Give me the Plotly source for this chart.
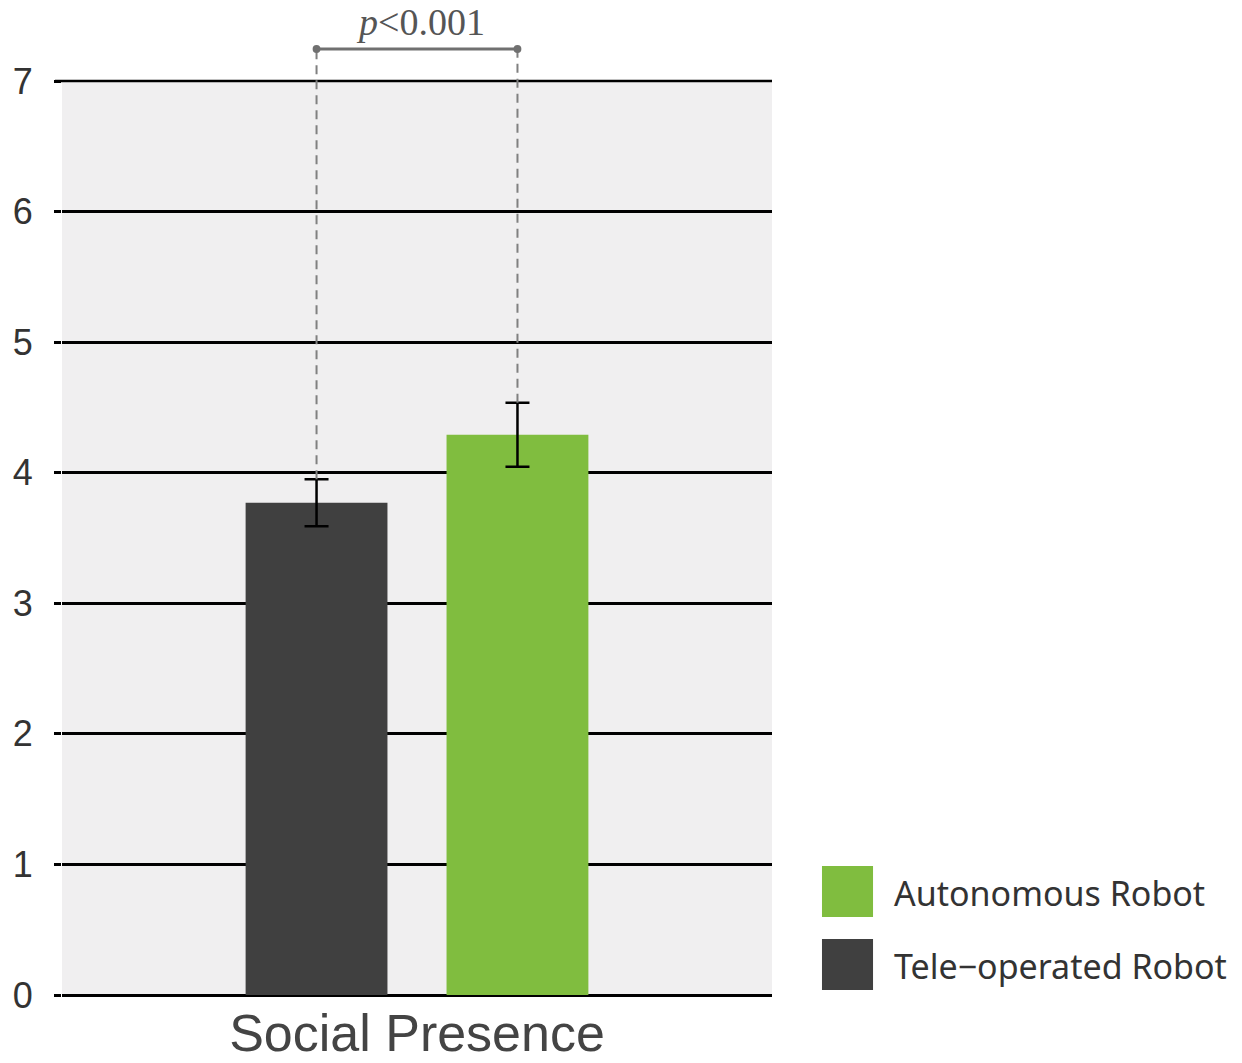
import plotly.graph_objects as go

categories = ["Social Presence"]
series_names = ["Tele-operated Robot", "Autonomous Robot"]
means = [3.77, 4.29]
errors = [0.18, 0.245]
colors = ["#404040", "#80bd3f"]
y_ticks = [0, 1, 2, 3, 4, 5, 6, 7]
p_label = "<i>p</i>&lt;0.001"

Y_MAX = 7
BARGAP = 0.434
BARGROUPGAP = 0.294

fig = go.Figure()
for name, m, e, c in zip(series_names, means, errors, colors):
    fig.add_trace(go.Bar(
        x=categories, y=[m], name=name, marker=dict(color=c, line=dict(width=0)),
        error_y=dict(type="data", array=[e], color="black", thickness=2.5, width=12),
        showlegend=False,
    ))

# bar centre offsets on the category axis (derived from gap settings)
n = len(series_names)
slot = (1 - BARGAP) / n
offsets = [-(1 - BARGAP) / 2 + slot * (i + 0.5) for i in range(n)]

bracket_y = 1.035
shapes = []
# top grid line at the range edge
shapes.append(dict(type="line", xref="paper", yref="paper", x0=-0.0099, x1=1, y0=1, y1=1,
                   line=dict(color="black", width=2.5), layer="above"))
for off, m, e in zip(offsets, means, errors):
    shapes.append(dict(type="line", xref="x", yref="paper", x0=off, x1=off,
                       y0=(m + e) / Y_MAX, y1=bracket_y,
                       line=dict(color="#808080", width=2, dash="9px,6px")))
shapes.append(dict(type="line", xref="x", yref="paper", x0=offsets[0], x1=offsets[1],
                   y0=bracket_y, y1=bracket_y, line=dict(color="#707070", width=3)))
for off in offsets:
    shapes.append(dict(type="circle", xref="x", yref="paper",
                       x0=off - 0.0055, x1=off + 0.0055,
                       y0=bracket_y - 0.0043, y1=bracket_y + 0.0043,
                       fillcolor="#707070", line=dict(width=0)))

# custom legend (large swatches)
legend_items = [("Autonomous Robot", "#80bd3f", 0.0853, 0.1411),
                ("Tele-operated Robot", "#404040", 0.0055, 0.0613)]
annotations = [dict(text=p_label, xref="paper", yref="paper", x=0.505, y=bracket_y + 0.006,
                    xanchor="center", yanchor="bottom", showarrow=False, borderpad=0,
                    font=dict(family="Liberation Serif", size=38, color="#555555"))]
for label, col, y0, y1 in legend_items:
    shapes.append(dict(type="rect", xref="paper", yref="paper", x0=1.0704, x1=1.1423,
                       y0=y0, y1=y1, fillcolor=col, line=dict(width=0)))
    annotations.append(dict(text=label.replace("-", "\u2212"), xref="paper", yref="paper",
                            x=1.169, y=(y0 + y1) / 2 - 0.002,
                            xanchor="left", yanchor="middle", showarrow=False,
                            font=dict(family="Noto Sans", size=34, color="#333333")))

fig.update_layout(
    width=1242, height=1063,
    margin=dict(l=62, r=470, t=81, b=68, autoexpand=False),
    paper_bgcolor="white", plot_bgcolor="#f0eff0",
    barmode="group", bargap=BARGAP, bargroupgap=BARGROUPGAP,
    shapes=shapes, annotations=annotations,
    showlegend=False,
)
fig.update_xaxes(showgrid=False, showline=False, ticks="", automargin=False,
                 tickfont=dict(family="Liberation Sans", size=52, color="#444444"),
                 ticklabelstandoff=3)
fig.update_yaxes(range=[0, Y_MAX], tickvals=y_ticks, showgrid=True, gridcolor="black",
                 gridwidth=2.5, zeroline=True, zerolinecolor="black", zerolinewidth=2.5,
                 ticks="outside", ticklen=7, tickcolor="black", tickwidth=2.5, automargin=False,
                 tickfont=dict(family="Liberation Sans", size=36, color="#333333"),
                 ticklabelstandoff=14)

fig.write_html("out.html", config={"displayModeBar": False},
               post_script="document.body.style.margin='0';")
